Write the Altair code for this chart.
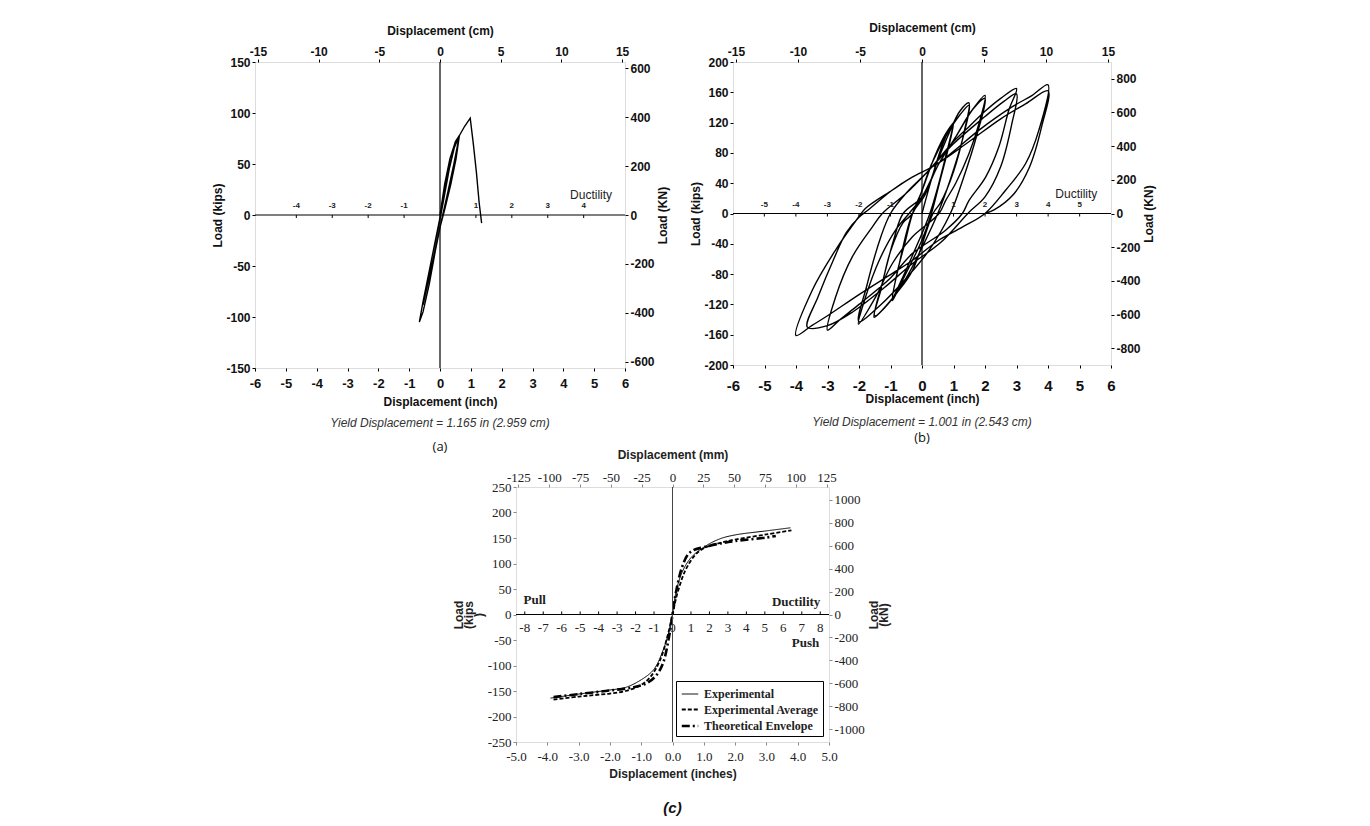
import altair as alt
import pandas as pd

SANS = "Liberation Sans"
SERIF = "Liberation Serif"
FIX = "replace(datum.label, '\u2212', '-')"

# ---------------- Panel (a) data: load (kips) vs displacement (inch) ----------------
A_X = [0.00, 0.15, 0.32, 0.50, 0.63, 0.52, 0.35, 0.15, 0.00, -0.20, -0.40, -0.55, -0.45, -0.25,
       -0.05, 0.10, 0.30, 0.48, 0.60, 0.63, 0.45, 0.25, 0.05, -0.15, -0.35, -0.55, -0.67, -0.55,
       -0.35, -0.15, 0.05, 0.25, 0.45, 0.63, 0.80, 0.98, 1.08, 1.18, 1.27, 1.35]
A_Y = [0, 30, 55, 72, 78, 55, 30, 5, -12, -40, -68, -88, -70, -40,
       -12, 12, 45, 68, 76, 78, 50, 22, -5, -35, -68, -95, -105, -85,
       -55, -25, 5, 40, 65, 78, 87, 95, 70, 42, 12, -8]
A_YIELD = 1.165
A_DUCT = [-4, -3, -2, -1, 1, 2, 3, 4]

# ---------------- Panel (b) data: cyclic loops, one array pair per amplitude ----------------
B1_X = [0.0, 0.3, 0.6, 0.85, 1.0, 0.8, 0.55, 0.3, 0.0, -0.4, -0.7, -0.94, -0.8, -0.55, -0.3,
        0.0, 0.4, 0.75, 0.97, 0.75, 0.25, -0.3, -0.7, -0.94, -0.75, -0.3]
B1_Y = [0, 45, 85, 110, 120, 80, 40, 0, -35, -70, -95, -115, -80, -40, 0,
        30, 75, 105, 118, 75, 0, -55, -92, -112, -72, 0]
B2_X = [0.1, 0.5, 0.9, 1.2, 1.49, 1.35, 1.0, 0.6, 0.35, -0.3, -0.8, -1.2, -1.52, -1.3, -1.0, -0.6, -0.3,
        0.3, 0.8, 1.2, 1.5, 1.3, 0.9, 0.5, 0.0, -0.5, -1.0, -1.5, -1.25, -0.9, -0.6]
B2_Y = [25, 70, 110, 135, 146, 110, 55, 15, 0, -75, -105, -125, -137, -100, -50, -12, 0,
        65, 105, 130, 143, 100, 45, 0, -45, -85, -115, -135, -90, -35, 0]
B3_X = [0.0, 0.54, 1.07, 1.6, 2.0, 1.81, 1.49, 1.07, 0.75, 0.54, -0.31, -0.94, -1.47, -2.02,
        -1.79, -1.36, -0.84, -0.41, 0.0, 0.54, 1.07, 1.6, 2.0, 1.75, 1.3, 0.9, 0.2, -0.6, -1.3,
        -2.0, -1.75, -1.3, -1.0]
B3_Y = [22, 66, 101, 137, 156, 119, 79, 40, 17, 0, -31, -66, -110, -146,
        -110, -62, -22, 0, 22, 66, 101, 137, 152, 105, 45, 0, -50, -90, -120,
        -143, -95, -30, 0]
B4_X = [-0.52, 0.22, 1.0, 1.5, 2.0, 2.5, 3.0, 2.76, 2.44, 2.02, 1.49, 1.28, 0.75, -0.31, -1.0,
        -2.0, -2.6, -3.0, -2.74, -2.21, -1.58, -1.26, -0.52, 0.22, 1.0, 2.0, 2.6, 3.0,
        2.85, 2.5, 2.0, 1.5, 0.6, -0.3, -1.2, -2.2, -3.0, -3.64, -3.3, -2.8, -2.4, -2.0, -1.7]
B4_Y = [26, 57, 95, 115, 135, 152, 165, 137, 88, 48, 17, 0, -22, -53, -85,
        -120, -140, -154, -110, -57, -18, 0, 26, 57, 92, 128, 148, 158,
        118, 62, 22, 2, -38, -66, -98, -130, -148, -150, -110, -60, -25, -5, 5]
B5_X = [-0.94, -0.31, 0.43, 1.0, 1.81, 2.87, 3.5, 4.0, 3.71, 3.29, 2.66, 2.0, 1.28, 0.54, -0.31,
        -0.94, -2.0, -3.0, -3.5, -4.0, -3.48, -2.74, -2.0, -1.79, -0.94, -0.31, 0.43, 1.5, 2.5,
        3.3, 4.0, 3.8, 3.4, 2.9, 2.3, 2.0]
B5_Y = [31, 48, 64, 82, 110, 141, 156, 170, 110, 66, 31, 0, -18, -35, -62,
        -79, -107, -135, -148, -161, -101, -48, -4, 7, 31, 48, 64, 95, 125,
        145, 162, 115, 60, 25, 5, 0]
B_YIELD = 1.001
B_DUCT = [-5, -4, -3, -2, -1, 1, 2, 3, 4, 5]

# ---------------- Panel (c) data: envelopes ----------------
C_EXP_X = [-3.9, -3.0, -2.5, -2.0, -1.5, -1.0, -0.6, -0.3, -0.1, 0.0, 0.1, 0.3, 0.6, 1.0, 1.5, 2.0, 3.0, 3.77]
C_EXP_Y = [-164, -156, -152, -148, -143, -128, -108, -70, -30, 0, 40, 82, 112, 132, 148, 156, 164, 170]
C_AVG_X = [-3.8, -3.0, -2.5, -2.0, -1.5, -1.0, -0.7, -0.4, -0.15, 0.0, 0.15, 0.4, 0.7, 1.0, 1.5, 2.0, 3.0, 3.8]
C_AVG_Y = [-167, -161, -158, -155, -150, -138, -122, -90, -40, 0, 40, 85, 115, 130, 140, 147, 157, 165]
C_THE_X = [-3.8, -3.0, -2.0, -1.2, -0.8, -0.5, -0.3, -0.1, 0.0, 0.1, 0.3, 0.5, 0.7, 1.0, 1.5, 2.0, 3.0, 3.3]
C_THE_Y = [-162, -156, -149, -142, -134, -118, -95, -40, 0, 40, 92, 118, 127, 132, 139, 144, 151, 154]
C_SERIES = ["Experimental", "Experimental Average", "Theoretical Envelope"]
C_YIELD = 0.59
C_DUCT = [-8, -7, -6, -5, -4, -3, -2, -1, 0, 1, 2, 3, 4, 5, 6, 7, 8]


def path_df(parts):
    rows = []
    i = 0
    for xs, ys in parts:
        for x, y in zip(xs, ys):
            rows.append({"x": x, "y": y, "i": i})
            i += 1
    return pd.DataFrame(rows)


def hyst_panel(df, w, h, ymax, ystep, knmax, knvals, yld, ducts, dtick, duct_word_x,
               yield_text, caption, xlab_size, x_lpad, x_tpad, top_pad, yield_offset, cap_pad, interp):
    xsc = alt.Scale(domain=[-6, 6], nice=False, zero=False)
    ysc = alt.Scale(domain=[-ymax, ymax], nice=False, zero=False)
    xax = alt.Axis(orient="bottom", values=list(range(-6, 7)), title="Displacement (inch)", labelExpr=FIX,
                   labelFont=SANS, labelFontWeight="bold", labelFontSize=xlab_size, labelColor="#111",
                   titleFont=SANS, titleFontWeight="bold", titleFontSize=12, titleColor="#111",
                   tickSize=3, tickColor="black", labelPadding=x_lpad, titlePadding=x_tpad,
                   domain=False, grid=False, labelOverlap=False, labelFlush=False)
    yax = alt.Axis(orient="left", values=list(range(-ymax, ymax + 1, ystep)), title="Load (kips)", labelExpr=FIX,
                   labelFont=SANS, labelFontWeight="bold", labelFontSize=12, labelColor="#111",
                   titleFont=SANS, titleFontWeight="bold", titleFontSize=12, titleColor="#111",
                   tickSize=3, tickColor="black", labelPadding=2, titlePadding=1, domain=False, grid=False,
                   labelOverlap=False, labelFlush=False)
    X = alt.X("x:Q", scale=xsc, axis=xax)
    Y = alt.Y("y:Q", scale=ysc, axis=yax)

    curve = alt.Chart(df).mark_line(color="black", strokeWidth=1.4, interpolate=interp).encode(
        x=X, y=Y, order="i:Q")
    hline = alt.Chart(pd.DataFrame({"y": [0]})).mark_rule(color="black", strokeWidth=1.2).encode(y=Y)
    vline = alt.Chart(pd.DataFrame({"x": [0]})).mark_rule(color="black", strokeWidth=1.2).encode(x=X)
    dd = pd.DataFrame({"x": [d * yld for d in ducts], "y": [0] * len(ducts), "y2": [-dtick] * len(ducts),
                       "t": [str(d) for d in ducts]})
    dticks = alt.Chart(dd).mark_rule(color="black", strokeWidth=1).encode(x=X, y=Y, y2="y2:Q")
    dlabels = alt.Chart(dd).mark_text(font=SANS, fontSize=8, fontWeight="bold", dy=-9, color="#222").encode(
        x=X, y=Y, text="t:N")
    dword = alt.Chart(pd.DataFrame({"x": [duct_word_x], "y": [0], "t": ["Ductility"]})).mark_text(
        font=SANS, fontSize=12, dy=-20, color="#222").encode(x=X, y=Y, text="t:N")

    cmmax = 6 * 2.54
    topright = alt.Chart(pd.DataFrame({"cm": [-cmmax, cmmax], "kn": [-knmax, knmax]})).mark_point(opacity=0).encode(
        x=alt.X("cm:Q", scale=alt.Scale(domain=[-cmmax, cmmax], nice=False, zero=False),
                axis=alt.Axis(orient="top", values=[-15, -10, -5, 0, 5, 10, 15], title="Displacement (cm)",
                              labelExpr=FIX,
                              labelFont=SANS, labelFontWeight="bold", labelFontSize=12, labelColor="#111",
                              titleFont=SANS, titleFontWeight="bold", titleFontSize=12, titleColor="#111",
                              tickSize=3, tickColor="black", labelPadding=1, titlePadding=top_pad,
                              domain=False, grid=False, labelOverlap=False, labelFlush=False)),
        y=alt.Y("kn:Q", scale=alt.Scale(domain=[-knmax, knmax], nice=False, zero=False),
                axis=alt.Axis(orient="right", values=knvals, title="Load (KN)", titleAngle=-90, labelExpr=FIX,
                              labelFont=SANS, labelFontWeight="bold", labelFontSize=12, labelColor="#111",
                              titleFont=SANS, titleFontWeight="bold", titleFontSize=12, titleColor="#111",
                              tickSize=3, tickColor="black", labelPadding=2, titlePadding=15,
                              domain=False, grid=False, labelOverlap=False, labelFlush=False)),
    )
    inner = alt.layer(curve, hline, vline, dticks, dlabels, dword)
    return alt.layer(inner, topright).resolve_scale(x="independent", y="independent").properties(
        width=w, height=h,
        title=alt.TitleParams(text=yield_text, subtitle=caption, orient="bottom", anchor="middle",
                              font=SANS, fontSize=12, fontStyle="italic", fontWeight="normal", color="#333",
                              subtitleFont="Open Sans", subtitleFontSize=13, subtitleColor="#111",
                              subtitlePadding=cap_pad, offset=yield_offset))


pa = hyst_panel(path_df([(A_X, A_Y)]), 370, 306, 150, 50, 625, [-600, -400, -200, 0, 200, 400, 600],
                A_YIELD, A_DUCT, 3, 4.9, "Yield Displacement = 1.165 in (2.959 cm)", "(a)",
                13, 6, 6, 8, 11, 11, "linear")
pb = hyst_panel(path_df([(B1_X, B1_Y), (B2_X, B2_Y), (B3_X, B3_Y), (B4_X, B4_Y), (B5_X, B5_Y)]),
                378, 303, 200, 40, 900, [-800, -600, -400, -200, 0, 200, 400, 600, 800],
                B_YIELD, B_DUCT, 4, 4.9, "Yield Displacement = 1.001 in (2.543 cm)",
                "\u00a0" * 14 + "(b)", 15, 10, 0, 11, 13, 3, "catmull-rom")

# ---------------- Panel (c) ----------------
crows = []
for name, xs, ys in [(C_SERIES[0], C_EXP_X, C_EXP_Y), (C_SERIES[1], C_AVG_X, C_AVG_Y),
                     (C_SERIES[2], C_THE_X, C_THE_Y)]:
    for k, (x, y) in enumerate(zip(xs, ys)):
        crows.append({"x": x, "y": y, "i": k, "s": name})
cdf = pd.DataFrame(crows)

cx = alt.X("x:Q", scale=alt.Scale(domain=[-5, 5], nice=False, zero=False),
           axis=alt.Axis(orient="bottom", values=[-5, -4, -3, -2, -1, 0, 1, 2, 3, 4, 5], format=".1f",
                         labelExpr=FIX, labelOverlap=False, labelFlush=False,
                         title="Displacement (inches)", labelFont=SERIF, labelFontSize=13, labelColor="#222",
                         titleFont=SANS, titleFontWeight="bold", titleFontSize=12, titleColor="#222",
                         tickSize=3, labelPadding=5, titlePadding=5, domain=False, grid=False))
cy = alt.Y("y:Q", scale=alt.Scale(domain=[-250, 250], nice=False, zero=False),
           axis=alt.Axis(orient="left", values=list(range(-250, 251, 50)), title=["Load", "(kips", ")"],
                         labelExpr=FIX, labelOverlap=False, labelFlush=False,
                         labelFont=SERIF, labelFontSize=13, labelColor="#222",
                         titleFont=SANS, titleFontWeight="bold", titleFontSize=12, titleColor="#222",
                         titleLineHeight=10, tickSize=3, labelPadding=2, titlePadding=2, domain=False, grid=False))

leg = alt.Legend(title=None, orient="bottom-right", offset=6, strokeColor="black", padding=4,
                 labelFont=SERIF, labelFontWeight="bold", labelFontSize=12, labelColor="#222",
                 symbolType="stroke", symbolSize=270, symbolStrokeColor="black", rowPadding=0,
                 labelLimit=200)
ccurves = alt.Chart(cdf).mark_line(color="black", interpolate="catmull-rom").encode(
    x=cx, y=cy, order="i:Q",
    strokeDash=alt.StrokeDash("s:N", scale=alt.Scale(domain=C_SERIES, range=[[1, 0], [4, 2], [8, 3, 2, 3]]),
                              legend=leg),
    strokeWidth=alt.StrokeWidth("s:N", scale=alt.Scale(domain=C_SERIES, range=[1, 2.6, 1.3]), legend=leg),
)
chline = alt.Chart(pd.DataFrame({"y": [0]})).mark_rule(color="black", strokeWidth=1).encode(y=cy)
cvline = alt.Chart(pd.DataFrame({"x": [0]})).mark_rule(color="#444", strokeWidth=1).encode(x=cx)
cdd = pd.DataFrame({"x": [d * C_YIELD for d in C_DUCT], "y": [0] * len(C_DUCT), "y2": [6] * len(C_DUCT),
                    "t": [str(d) for d in C_DUCT]})
cdticks = alt.Chart(cdd).mark_rule(color="black", strokeWidth=1).encode(x=cx, y=cy, y2="y2:Q")
cdlabels = alt.Chart(cdd).mark_text(font=SERIF, fontSize=13, dy=13, color="#222").encode(x=cx, y=cy, text="t:N")
CW_X = [-4.4, 3.95, 4.25]
CW_T = ["Pull", "Ductility", "Push"]
CW_DY = [-15, -13, 28]
cwords = []
for wx, wt, wdy in zip(CW_X, CW_T, CW_DY):
    cwords.append(alt.Chart(pd.DataFrame({"x": [wx], "y": [0], "t": [wt]})).mark_text(
        font=SERIF, fontSize=13, fontWeight="bold", dy=wdy, color="#222").encode(x=cx, y=cy, text="t:N"))

mmmax = 5 * 25.4
knmax_c = 250 * 4.448
ctr = alt.Chart(pd.DataFrame({"mm": [-mmmax, mmmax], "kn": [-knmax_c, knmax_c]})).mark_point(opacity=0).encode(
    x=alt.X("mm:Q", scale=alt.Scale(domain=[-mmmax, mmmax], nice=False, zero=False),
            axis=alt.Axis(orient="top", values=list(range(-125, 126, 25)), title="Displacement (mm)",
                          labelExpr=FIX, labelOverlap=False, labelFlush=False,
                          labelFont=SERIF, labelFontSize=13, labelColor="#222",
                          titleFont=SANS, titleFontWeight="bold", titleFontSize=12, titleColor="#222",
                          tickSize=3, labelPadding=0, titlePadding=10, domain=False, grid=False)),
    y=alt.Y("kn:Q", scale=alt.Scale(domain=[-knmax_c, knmax_c], nice=False, zero=False),
            axis=alt.Axis(orient="right", values=list(range(-1000, 1001, 200)), title=["Load", "(kN)"],
                          format="d", labelExpr=FIX, labelOverlap=False, labelFlush=False,
                          titleAngle=-90, labelFont=SERIF, labelFontSize=13, labelColor="#222",
                          titleFont=SANS, titleFontWeight="bold", titleFontSize=12, titleColor="#222",
                          titleLineHeight=10, tickSize=3, labelPadding=2, titlePadding=6, domain=False, grid=False)),
)
pc = alt.layer(alt.layer(ccurves, chline, cvline, cdticks, cdlabels, *cwords), ctr).resolve_scale(
    x="independent", y="independent").properties(
    width=313, height=255,
    title=alt.TitleParams(text="(c)", orient="bottom", anchor="middle", font=SANS, fontSize=15,
                          fontStyle="italic", fontWeight="bold", color="#111", offset=22))

spacer = alt.Chart(pd.DataFrame({"v": [0]})).mark_point(opacity=0).properties(
    width=196, height=10, view=alt.ViewBackground(strokeOpacity=0))

row2 = alt.hconcat(spacer, pc, spacing=0).resolve_scale(strokeDash="independent", strokeWidth="independent")
chart = alt.vconcat(
    alt.hconcat(pa, pb, spacing=20),
    row2,
    spacing=-8,
).resolve_scale(strokeDash="independent", strokeWidth="independent").properties(
    padding={"left": 203, "top": 12, "right": 5, "bottom": 5}).configure_view(
    stroke="black", strokeWidth=1.5).configure(background="white")

chart.save("out.html", embed_options={"renderer": "svg", "actions": False})
